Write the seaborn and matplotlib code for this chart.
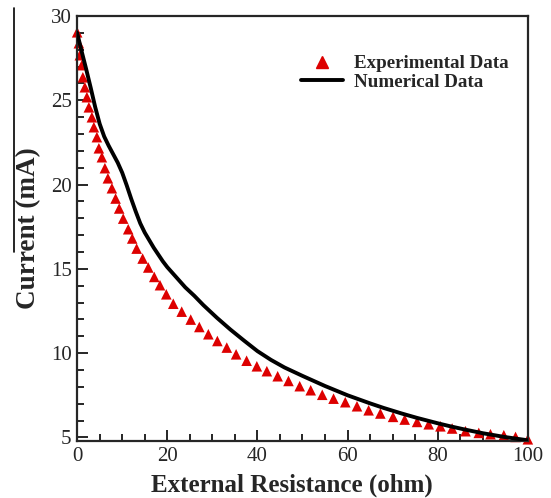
import matplotlib
matplotlib.use("Agg")
import matplotlib.pyplot as plt
from matplotlib.lines import Line2D
from matplotlib.ticker import MultipleLocator
import seaborn as sns
import pandas as pd

# experimental points (symbols)
exp_r = [0, 0.38, 0.6, 1.04, 1.27, 1.71, 2.16, 2.6, 3.27, 3.71, 4.38, 4.82, 5.49, 6.16,
         6.82, 7.71, 8.53, 9.33, 10.22, 11.33, 12.22, 13.2, 14.53, 15.78, 17.11, 18.38,
         19.78, 21.33, 23.2, 25.2, 27.11, 29.11, 31.11, 33.2, 35.27, 37.6, 39.87, 42.09,
         44.49, 46.89, 49.38, 51.82, 54.38, 56.89, 59.49, 62.09, 64.67, 67.27, 70.09,
         72.67, 75.42, 78.0, 80.6, 83.2, 86.16, 89.11, 91.71, 94.67, 97.27, 100]
exp_i = [29.03, 28.38, 27.67, 27.08, 26.36, 25.77, 25.18, 24.58, 23.99, 23.40, 22.81,
         22.15, 21.62, 20.97, 20.37, 19.78, 19.17, 18.58, 17.98, 17.35, 16.80, 16.20,
         15.61, 15.08, 14.52, 14.03, 13.49, 12.93, 12.46, 11.99, 11.55, 11.12, 10.72,
         10.33, 9.93, 9.55, 9.22, 8.93, 8.63, 8.35, 8.04, 7.80, 7.53, 7.30, 7.09, 6.85,
         6.61, 6.42, 6.22, 6.06, 5.92, 5.78, 5.66, 5.53, 5.37, 5.27, 5.19, 5.13, 5.03, 4.89]

# numerical curve
num_r = [0, 1, 2, 3, 4, 5, 6, 7, 8, 9, 10, 11, 12, 13, 14, 15, 16, 17, 18, 19, 20,
         22, 24, 26, 28, 31, 34, 37, 40, 43, 46, 50, 55, 60, 65, 68, 72, 75.4, 80,
         82.8, 86, 90, 95, 100]
num_i = [29.0, 27.9, 26.85, 25.75, 24.6, 23.6, 22.85, 22.3, 21.8, 21.3, 20.7, 19.95,
         19.15, 18.4, 17.7, 17.15, 16.7, 16.25, 15.85, 15.45, 15.1,
         14.5, 13.9, 13.4, 12.85, 12.1, 11.4, 10.75, 10.12, 9.6, 9.15, 8.65, 8.05, 7.5,
         7.02, 6.75, 6.42, 6.16, 5.84, 5.66, 5.47, 5.25, 5.02, 4.83]

sns.set_style("ticks")
plt.rcParams["font.family"] = ["Liberation Serif", "DejaVu Serif"]

df_exp = pd.DataFrame({"r": exp_r, "i": exp_i})
df_num = pd.DataFrame({"r": num_r, "i": num_i})

fig = plt.figure(figsize=(5.51, 4.98), dpi=100)
ax = fig.add_axes([0.140, 0.1145, 0.818, 0.8535])

sns.lineplot(data=df_num, x="r", y="i", color="black", linewidth=2.8, sort=False,
             ax=ax, zorder=3)
sns.scatterplot(data=df_exp, x="r", y="i", marker="^", color="#dd0000", s=58,
                edgecolor="none", ax=ax, zorder=2, clip_on=False)

ax.set_xlim(0, 100)
ax.set_ylim(4.79, 30)
ax.xaxis.set_major_locator(MultipleLocator(20))
ax.xaxis.set_minor_locator(MultipleLocator(5))
ax.set_yticks([5, 10, 15, 20, 25, 30])
ax.yaxis.set_minor_locator(MultipleLocator(1))
ax.tick_params(which="both", direction="in", width=1.4, labelsize=15, pad=4)
ax.tick_params(which="major", length=8)
ax.tick_params(which="minor", length=5)
for s in ax.spines.values():
    s.set_linewidth(1.6)

ax.set_xlabel("External Resistance (ohm)", fontsize=18, fontweight="bold")
ax.set_ylabel("Current (mA)", fontsize=19.5, fontweight="bold")
ax.xaxis.set_label_coords(0.476, -0.077)
ax.yaxis.set_label_coords(-0.080, 0.5)

handles = [Line2D([], [], marker="^", color="#dd0000", linestyle="none", markersize=8),
           Line2D([], [], color="black", linewidth=2.8)]
ax.legend(handles, ["Experimental Data", "Numerical Data"], loc="center left",
          bbox_to_anchor=(0.4967, 0.866), frameon=False, handlelength=2.2,
          handletextpad=0.58, labelspacing=0.06, borderpad=0, borderaxespad=0,
          prop={"weight": "bold", "size": 13.7})

# stray border line at the left edge of the original picture
fig.add_artist(Line2D([14 / 551, 14 / 551], [1 - 8 / 498, 1 - 252 / 498],
                      color="black", linewidth=1.2))

fig.savefig("out.png", dpi=100)
